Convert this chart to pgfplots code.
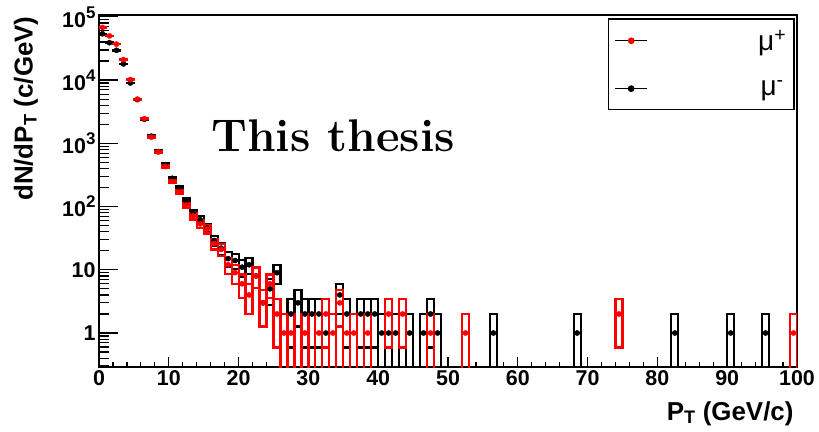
\documentclass[border=0pt]{standalone}
\usepackage{fontspec}
\setsansfont{Liberation Sans}
\usepackage{pgfplots}
\pgfplotsset{compat=1.18}
\usepackage{pgfplotstable}

% mu- (black): bin centre, count, error plus, error minus
\pgfplotstableread{
x y ep em
0.5 54000 232 232
1.5 39000 197 197
2.5 29600 172 172
3.5 18000 134 134
4.5 9000 95 95
5.5 4900 70 70
6.5 2400 49 49
7.5 1300 36 36
8.5 740 27.2 27.2
9.5 460 21.4 21.4
10.5 280 16.7 16.7
11.5 200 14.1 14.1
12.5 125 11.2 11.2
13.5 80 8.94 8.94
14.5 62 7.87 7.87
15.5 46 6.78 6.78
16.5 29 5.39 5.39
17.5 22 4.69 4.69
18.5 15 3.87 3.87
19.5 14 3.74 3.74
20.5 11 3.32 3.32
21.5 12 3.46 3.46
22.5 8 2.83 2.83
23.5 3 1.73 1.73
24.5 5 2.24 2.24
25.5 9 3 3
27.5 2 1.41 1.41
28.5 3 1.73 1.73
29.5 2 1.41 1.41
30.5 2 1.41 1.41
31.5 2 1.41 1.41
32.5 1 1 0.99
34.5 4 2 2
35.5 2 1.41 1.41
37.5 2 1.41 1.41
38.5 2 1.41 1.41
39.5 2 1.41 1.41
40.5 1 1 0.99
41.5 1 1 0.99
42.5 1 1 0.99
44.5 1 1 0.99
46.5 1 1 0.99
47.5 2 1.41 1.41
48.5 1 1 0.99
56.5 1 1 0.99
68.5 1 1 0.99
82.5 1 1 0.99
90.5 1 1 0.99
95.5 1 1 0.99
}\minusdata

% mu+ (red)
\pgfplotstableread{
x y ep em
0.5 68000 261 261
1.5 50000 224 224
2.5 37000 192 192
3.5 21000 145 145
4.5 10200 101 101
5.5 5000 71 71
6.5 2450 49.5 49.5
7.5 1250 35.4 35.4
8.5 730 27.0 27.0
9.5 430 20.7 20.7
10.5 250 15.8 15.8
11.5 170 13.0 13.0
12.5 105 10.2 10.2
13.5 71 8.43 8.43
14.5 53 7.28 7.28
15.5 44 6.63 6.63
16.5 26 5.10 5.10
17.5 21 4.58 4.58
18.5 12 3.46 3.46
19.5 9 3 3
20.5 6 2.45 2.45
21.5 4 2 2
22.5 8 2.83 2.83
23.5 3 1.73 1.73
24.5 6 2.45 2.45
25.5 2 1.41 1.41
26.5 1 1 0.99
27.5 1 1 0.99
29.5 1 1 0.99
31.5 1 1 0.99
32.5 2 1.41 1.41
33.5 1 1 0.99
34.5 3 1.73 1.73
35.5 1 1 0.99
36.5 1 1 0.99
38.5 1 1 0.99
41.5 2 1.41 1.41
43.5 2 1.41 1.41
47.5 1 1 0.99
52.5 1 1 0.99
74.5 2 1.41 1.41
99.5 1 1 0.99
}\plusdata

\newcommand{\tickfont}{\fontsize{21.5}{24}\selectfont\sffamily\bfseries}
\newcommand{\titlefont}{\fontsize{26}{30}\selectfont\sffamily\bfseries}
\newcommand{\tpow}[1]{10\raisebox{0.42em}{\fontsize{17}{17}\selectfont #1}}

\pgfplotsset{
  boxblack/.style={error bars/draw error bar/.code 2 args={\path ##1 coordinate (eA); \path ##2 coordinate (eB); \draw[black,line width=2.2bp] ([xshift=-3.49bp]eA) rectangle ([xshift=3.49bp]eB);}},
  boxred/.style={error bars/draw error bar/.code 2 args={\path ##1 coordinate (eA); \path ##2 coordinate (eB); \draw[red,line width=2.2bp] ([xshift=-3.49bp]eA) rectangle ([xshift=3.49bp]eB);}},
}

\begin{document}
\begin{tikzpicture}
\useasboundingbox (-99bp,-65bp) rectangle (720bp,367bp);
\begin{axis}[
  scale only axis,
  width=698bp, height=352bp,
  xmin=0, xmax=100,
  ymode=log, ymin=0.29, ymax=1.07e5,
  enlargelimits=false,
  axis line style={line width=2.4bp},
  tick align=inside,
  xtick pos=bottom, ytick pos=left,
  xtick={0,10,...,100},
  xticklabels={0,10,20,30,40,50,60,70,80,90,100},
  minor xtick={2,4,6,8,12,14,16,18,22,24,26,28,32,34,36,38,42,44,46,48,52,54,56,58,62,64,66,68,72,74,76,78,82,84,86,88,92,94,96,98},
  ytick={1,10,100,1000,10000,100000},
  yticklabels={1,10,\tpow{2},\tpow{3},\tpow{4},\tpow{5}},
  minor ytick={0.3,0.4,0.5,0.6,0.7,0.8,0.9,2,3,4,5,6,7,8,9,20,30,40,50,60,70,80,90,200,300,400,500,600,700,800,900,2000,3000,4000,5000,6000,7000,8000,9000,20000,30000,40000,50000,60000,70000,80000,90000},
  xtick style={/pgfplots/major tick length=10bp,/pgfplots/minor tick length=5bp,line width=1.2bp,black},
  ytick style={/pgfplots/major tick length=19bp,/pgfplots/minor tick length=9.5bp,line width=1.2bp,black},
  tick label style={font=\tickfont},
  reverse legend,
  legend style={at={(rel axis cs:0.997,0.991)}, anchor=north east, draw=black, line width=1.5bp,
    fill=white, font=\fontsize{28}{30}\selectfont\sffamily, inner xsep=6bp, inner ysep=9bp, row sep=23bp},
]
% mu- boxes and points
\addplot[draw=none, mark=none, forget plot, boxblack,
  error bars/.cd, y dir=both, y explicit]
  table[x=x,y=y,y error plus=ep,y error minus=em]{\minusdata};
\addplot[black, only marks, mark=*, mark size=2.6bp,
  legend image code/.code={\draw[black,line width=1.2bp] (0bp,0bp) -- (32bp,0bp); \fill[black] (16bp,0bp) circle (2.6bp); \path[draw=none,fill=none] (0bp,-12bp) rectangle (141bp,12bp);},
  error bars/.cd, x dir=both, x fixed=0.5, error mark=none, error bar style={line width=1.2bp}]
  table[x=x,y=y]{\minusdata};
\addlegendentry{μ\textsuperscript{-}}
% mu+ boxes and points
\addplot[draw=none, mark=none, forget plot, boxred,
  error bars/.cd, y dir=both, y explicit]
  table[x=x,y=y,y error plus=ep,y error minus=em]{\plusdata};
\addplot[red, only marks, mark=*, mark size=2.6bp,
  legend image code/.code={\draw[black,line width=1.2bp] (0bp,0bp) -- (32bp,0bp); \fill[red] (16bp,0bp) circle (2.6bp); \path[draw=none,fill=none] (0bp,-12bp) rectangle (141bp,12bp);},
  error bars/.cd, x dir=both, x fixed=0.5, error mark=none, error bar style={line width=1.2bp}]
  table[x=x,y=y]{\plusdata};
\addlegendentry{μ\textsuperscript{+}}
\node[anchor=base west, font=\fontsize{46}{52}\selectfont\bfseries] at (rel axis cs:0.156,0.6108) {This thesis};
\end{axis}
\node[rotate=90, anchor=east, font=\titlefont] at (-73bp,354bp) {dN/dP\textsubscript{T} (c/GeV)};
\node[anchor=base east, font=\titlefont] at (698bp,-53bp) {P\textsubscript{T} (GeV/c)};
\end{tikzpicture}
\end{document}
